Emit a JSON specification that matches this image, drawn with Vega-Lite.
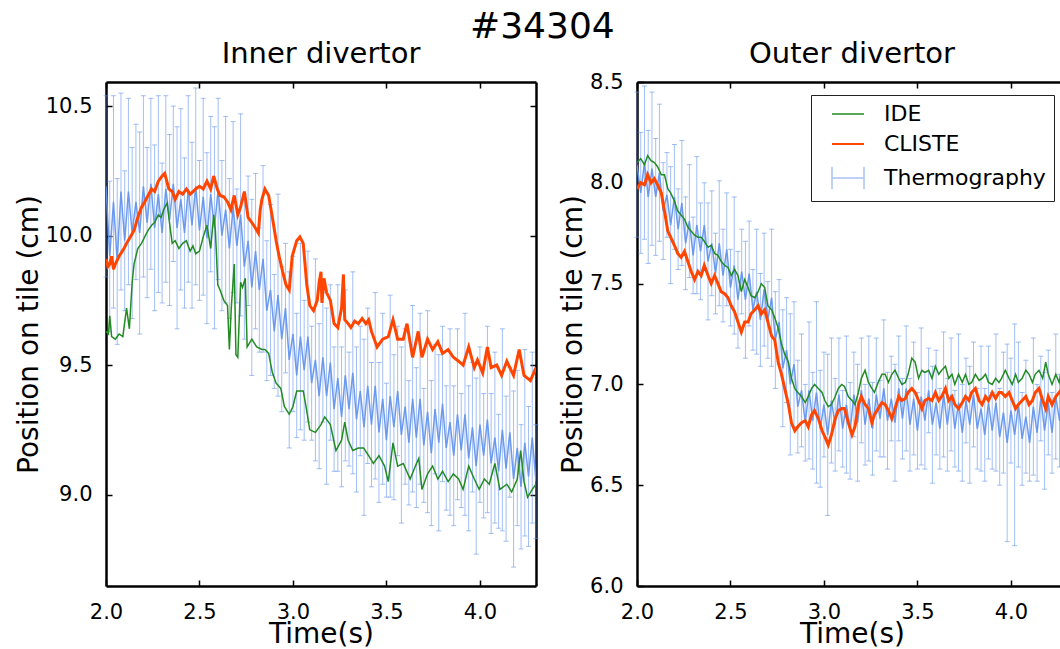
{
"$schema": "https://vega.github.io/schema/vega-lite/v6.json",
"padding": {"left": 15, "top": 9, "right": 0, "bottom": 0},
"background": "white",
"title": {"text": "#34304", "fontSize": 36, "anchor": "middle", "offset": -6},
"config": {
  "font": "DejaVu Sans",
  "view": {"stroke": null},
  "axis": {"domainColor": "black", "domainWidth": 2.5, "tickColor": "black", "tickWidth": 1.5, "tickSize": -6, "labelFontSize": 21, "labelColor": "black", "titleFontSize": 28, "titleFontWeight": "normal", "titleColor": "black", "grid": false, "labelFlush": false, "labelOverlap": false},
  "axisX": {"labelPadding": 21, "titlePadding": -2},
  "axisY": {"labelPadding": 20, "titlePadding": 2},
  "title": {"fontSize": 29, "fontWeight": "normal", "color": "black"},
  "legend": {"labelFontSize": 22, "labelColor": "black"}
},
"datasets": {
"inner_th": [
{"t":2.00,"y":10.19,"e":0.35},{"t":2.02,"y":9.92,"e":0.29},{"t":2.04,"y":10.13,"e":0.41},{"t":2.06,"y":9.90,"e":0.32},{"t":2.08,"y":10.17,"e":0.38},{"t":2.10,"y":9.98,"e":0.27},{"t":2.12,"y":10.17,"e":0.36},{"t":2.14,"y":10.01,"e":0.33},{"t":2.16,"y":10.13,"e":0.30},{"t":2.18,"y":10.01,"e":0.39},
{"t":2.20,"y":10.19,"e":0.35},{"t":2.22,"y":10.05,"e":0.29},{"t":2.24,"y":10.20,"e":0.33},{"t":2.26,"y":10.03,"e":0.32},{"t":2.28,"y":10.16,"e":0.38},{"t":2.30,"y":10.01,"e":0.27},{"t":2.32,"y":10.18,"e":0.36},{"t":2.34,"y":10.06,"e":0.33},{"t":2.36,"y":10.20,"e":0.30},{"t":2.38,"y":10.03,"e":0.39},
{"t":2.40,"y":10.14,"e":0.35},{"t":2.42,"y":10.01,"e":0.29},{"t":2.44,"y":10.18,"e":0.36},{"t":2.46,"y":10.04,"e":0.32},{"t":2.48,"y":10.19,"e":0.38},{"t":2.50,"y":10.02,"e":0.27},{"t":2.52,"y":10.15,"e":0.38},{"t":2.54,"y":9.99,"e":0.33},{"t":2.56,"y":10.16,"e":0.30},{"t":2.58,"y":10.03,"e":0.39},
{"t":2.60,"y":10.18,"e":0.35},{"t":2.62,"y":10.00,"e":0.29},{"t":2.64,"y":10.10,"e":0.36},{"t":2.66,"y":9.95,"e":0.27},{"t":2.68,"y":10.11,"e":0.33},{"t":2.70,"y":9.96,"e":0.22},{"t":2.72,"y":10.08,"e":0.39},{"t":2.74,"y":9.88,"e":0.28},{"t":2.76,"y":9.98,"e":0.25},{"t":2.78,"y":9.80,"e":0.34},
{"t":2.80,"y":9.94,"e":0.30},{"t":2.82,"y":9.79,"e":0.24},{"t":2.84,"y":9.91,"e":0.36},{"t":2.86,"y":9.71,"e":0.27},{"t":2.88,"y":9.79,"e":0.33},{"t":2.90,"y":9.63,"e":0.22},{"t":2.92,"y":9.77,"e":0.39},{"t":2.94,"y":9.60,"e":0.28},{"t":2.96,"y":9.72,"e":0.25},{"t":2.98,"y":9.52,"e":0.34},
{"t":3.00,"y":9.62,"e":0.30},{"t":3.02,"y":9.46,"e":0.24},{"t":3.04,"y":9.61,"e":0.36},{"t":3.06,"y":9.48,"e":0.27},{"t":3.08,"y":9.61,"e":0.33},{"t":3.10,"y":9.43,"e":0.22},{"t":3.12,"y":9.52,"e":0.39},{"t":3.14,"y":9.38,"e":0.28},{"t":3.16,"y":9.53,"e":0.25},{"t":3.18,"y":9.38,"e":0.34},
{"t":3.20,"y":9.51,"e":0.30},{"t":3.22,"y":9.33,"e":0.24},{"t":3.24,"y":9.45,"e":0.36},{"t":3.26,"y":9.30,"e":0.27},{"t":3.28,"y":9.46,"e":0.33},{"t":3.30,"y":9.33,"e":0.22},{"t":3.32,"y":9.47,"e":0.39},{"t":3.34,"y":9.29,"e":0.28},{"t":3.36,"y":9.40,"e":0.25},{"t":3.38,"y":9.26,"e":0.34},
{"t":3.40,"y":9.42,"e":0.30},{"t":3.42,"y":9.27,"e":0.24},{"t":3.44,"y":9.42,"e":0.36},{"t":3.46,"y":9.24,"e":0.27},{"t":3.48,"y":9.37,"e":0.33},{"t":3.50,"y":9.21,"e":0.22},{"t":3.52,"y":9.38,"e":0.39},{"t":3.54,"y":9.26,"e":0.28},{"t":3.56,"y":9.40,"e":0.25},{"t":3.58,"y":9.23,"e":0.34},
{"t":3.60,"y":9.34,"e":0.30},{"t":3.62,"y":9.20,"e":0.24},{"t":3.64,"y":9.37,"e":0.36},{"t":3.66,"y":9.22,"e":0.27},{"t":3.68,"y":9.37,"e":0.33},{"t":3.70,"y":9.19,"e":0.22},{"t":3.72,"y":9.32,"e":0.39},{"t":3.74,"y":9.16,"e":0.28},{"t":3.76,"y":9.33,"e":0.25},{"t":3.78,"y":9.20,"e":0.34},
{"t":3.80,"y":9.35,"e":0.30},{"t":3.82,"y":9.18,"e":0.24},{"t":3.84,"y":9.28,"e":0.36},{"t":3.86,"y":9.15,"e":0.27},{"t":3.88,"y":9.31,"e":0.33},{"t":3.90,"y":9.17,"e":0.22},{"t":3.92,"y":9.31,"e":0.39},{"t":3.94,"y":9.14,"e":0.28},{"t":3.96,"y":9.26,"e":0.25},{"t":3.98,"y":9.11,"e":0.34},
{"t":4.00,"y":9.27,"e":0.30},{"t":4.02,"y":9.15,"e":0.24},{"t":4.04,"y":9.29,"e":0.36},{"t":4.06,"y":9.12,"e":0.27},{"t":4.08,"y":9.22,"e":0.33},{"t":4.10,"y":9.09,"e":0.22},{"t":4.12,"y":9.25,"e":0.39},{"t":4.14,"y":9.10,"e":0.28},{"t":4.16,"y":9.24,"e":0.25},{"t":4.18,"y":9.06,"e":0.34},
{"t":4.20,"y":9.18,"e":0.30},{"t":4.22,"y":9.03,"e":0.24},{"t":4.24,"y":9.20,"e":0.36},{"t":4.26,"y":9.07,"e":0.27},{"t":4.28,"y":9.22,"e":0.33},{"t":4.30,"y":9.05,"e":0.22}
],
"inner_ide": [
{"t":2.000,"y":9.63},{"t":2.013,"y":9.62},{"t":2.02,"y":9.69},{"t":2.03,"y":9.61},{"t":2.05,"y":9.60},{"t":2.07,"y":9.62},{"t":2.09,"y":9.61},{"t":2.11,"y":9.72},{"t":2.125,"y":9.64},{"t":2.14,"y":9.82},
{"t":2.15,"y":9.89},{"t":2.17,"y":9.95},{"t":2.19,"y":9.97},{"t":2.207,"y":9.995},{"t":2.225,"y":10.02},{"t":2.244,"y":10.04},{"t":2.26,"y":10.05},{"t":2.28,"y":10.08},{"t":2.295,"y":10.07},{"t":2.308,"y":10.10},
{"t":2.327,"y":10.126},{"t":2.336,"y":10.07},{"t":2.345,"y":10.02},{"t":2.354,"y":9.97},{"t":2.37,"y":9.98},{"t":2.39,"y":9.95},{"t":2.41,"y":9.97},{"t":2.43,"y":9.98},{"t":2.45,"y":9.94},{"t":2.465,"y":9.96},
{"t":2.48,"y":9.93},{"t":2.50,"y":9.94},{"t":2.52,"y":9.995},{"t":2.54,"y":10.04},{"t":2.56,"y":9.95},{"t":2.576,"y":10.08},{"t":2.585,"y":10.02},{"t":2.598,"y":9.81},{"t":2.61,"y":9.79},{"t":2.63,"y":9.75},
{"t":2.65,"y":9.73},{"t":2.66,"y":9.56},{"t":2.67,"y":9.72},{"t":2.686,"y":9.89},{"t":2.695,"y":9.54},{"t":2.705,"y":9.53},{"t":2.72,"y":9.82},{"t":2.73,"y":9.80},{"t":2.745,"y":9.835},{"t":2.755,"y":9.57},
{"t":2.78,"y":9.60},{"t":2.806,"y":9.57},{"t":2.834,"y":9.56},{"t":2.85,"y":9.56},{"t":2.87,"y":9.545},{"t":2.89,"y":9.47},{"t":2.91,"y":9.43},{"t":2.935,"y":9.41},{"t":2.954,"y":9.34},{"t":2.98,"y":9.31},
{"t":3.0,"y":9.34},{"t":3.02,"y":9.40},{"t":3.055,"y":9.40},{"t":3.07,"y":9.34},{"t":3.09,"y":9.25},{"t":3.12,"y":9.24},{"t":3.15,"y":9.27},{"t":3.17,"y":9.30},{"t":3.20,"y":9.27},{"t":3.23,"y":9.17},
{"t":3.26,"y":9.21},{"t":3.277,"y":9.28},{"t":3.295,"y":9.21},{"t":3.32,"y":9.17},{"t":3.35,"y":9.18},{"t":3.378,"y":9.18},{"t":3.405,"y":9.15},{"t":3.43,"y":9.12},{"t":3.46,"y":9.15},{"t":3.49,"y":9.11},
{"t":3.51,"y":9.05},{"t":3.535,"y":9.20},{"t":3.56,"y":9.11},{"t":3.59,"y":9.12},{"t":3.627,"y":9.06},{"t":3.655,"y":9.11},{"t":3.673,"y":9.14},{"t":3.69,"y":9.02},{"t":3.72,"y":9.08},{"t":3.747,"y":9.11},
{"t":3.775,"y":9.06},{"t":3.80,"y":9.09},{"t":3.83,"y":9.05},{"t":3.858,"y":9.08},{"t":3.886,"y":9.06},{"t":3.91,"y":9.02},{"t":3.94,"y":9.11},{"t":3.97,"y":9.06},{"t":3.996,"y":9.02},{"t":4.024,"y":9.06},
{"t":4.05,"y":9.04},{"t":4.08,"y":9.12},{"t":4.107,"y":9.02},{"t":4.144,"y":9.04},{"t":4.17,"y":9.01},{"t":4.20,"y":9.06},{"t":4.218,"y":9.17},{"t":4.236,"y":9.05},{"t":4.255,"y":8.99},{"t":4.28,"y":9.02},{"t":4.30,"y":9.04}
],
"inner_cl": [
{"t":2.00,"y":9.91},{"t":2.01,"y":9.88},{"t":2.02,"y":9.89},{"t":2.03,"y":9.92},{"t":2.04,"y":9.87},{"t":2.05,"y":9.89},{"t":2.07,"y":9.92},{"t":2.096,"y":9.95},{"t":2.11,"y":9.97},{"t":2.13,"y":9.995},
{"t":2.15,"y":10.02},{"t":2.17,"y":10.07},{"t":2.19,"y":10.11},{"t":2.207,"y":10.13},{"t":2.225,"y":10.155},{"t":2.244,"y":10.18},{"t":2.26,"y":10.17},{"t":2.28,"y":10.21},{"t":2.30,"y":10.23},{"t":2.314,"y":10.24},
{"t":2.336,"y":10.18},{"t":2.354,"y":10.17},{"t":2.37,"y":10.14},{"t":2.39,"y":10.17},{"t":2.41,"y":10.16},{"t":2.43,"y":10.18},{"t":2.45,"y":10.16},{"t":2.465,"y":10.17},{"t":2.48,"y":10.18},{"t":2.50,"y":10.19},
{"t":2.52,"y":10.18},{"t":2.54,"y":10.21},{"t":2.56,"y":10.18},{"t":2.576,"y":10.23},{"t":2.595,"y":10.18},{"t":2.61,"y":10.155},{"t":2.63,"y":10.15},{"t":2.65,"y":10.13},{"t":2.668,"y":10.10},{"t":2.686,"y":10.155},
{"t":2.705,"y":10.08},{"t":2.72,"y":10.11},{"t":2.74,"y":10.17},{"t":2.76,"y":10.07},{"t":2.79,"y":10.04},{"t":2.815,"y":10.01},{"t":2.825,"y":10.10},{"t":2.834,"y":10.14},{"t":2.85,"y":10.18},{"t":2.87,"y":10.155},
{"t":2.89,"y":10.07},{"t":2.91,"y":9.98},{"t":2.926,"y":9.92},{"t":2.945,"y":9.86},{"t":2.963,"y":9.81},{"t":2.98,"y":9.79},{"t":2.996,"y":9.92},{"t":3.02,"y":9.98},{"t":3.037,"y":9.995},{"t":3.055,"y":9.97},
{"t":3.074,"y":9.81},{"t":3.09,"y":9.73},{"t":3.11,"y":9.71},{"t":3.13,"y":9.75},{"t":3.14,"y":9.82},{"t":3.15,"y":9.86},{"t":3.155,"y":9.74},{"t":3.166,"y":9.835},{"t":3.18,"y":9.78},{"t":3.20,"y":9.75},
{"t":3.22,"y":9.66},{"t":3.24,"y":9.645},{"t":3.26,"y":9.72},{"t":3.27,"y":9.85},{"t":3.277,"y":9.675},{"t":3.295,"y":9.66},{"t":3.31,"y":9.645},{"t":3.33,"y":9.67},{"t":3.35,"y":9.66},{"t":3.37,"y":9.68},
{"t":3.39,"y":9.66},{"t":3.405,"y":9.675},{"t":3.42,"y":9.63},{"t":3.45,"y":9.57},{"t":3.48,"y":9.60},{"t":3.51,"y":9.61},{"t":3.535,"y":9.675},{"t":3.56,"y":9.60},{"t":3.59,"y":9.60},{"t":3.61,"y":9.66},
{"t":3.64,"y":9.53},{"t":3.67,"y":9.63},{"t":3.69,"y":9.53},{"t":3.72,"y":9.60},{"t":3.747,"y":9.56},{"t":3.775,"y":9.59},{"t":3.80,"y":9.545},{"t":3.83,"y":9.56},{"t":3.858,"y":9.53},{"t":3.886,"y":9.515},
{"t":3.91,"y":9.50},{"t":3.94,"y":9.57},{"t":3.97,"y":9.49},{"t":3.987,"y":9.52},{"t":4.015,"y":9.47},{"t":4.04,"y":9.57},{"t":4.06,"y":9.49},{"t":4.09,"y":9.50},{"t":4.116,"y":9.46},{"t":4.144,"y":9.515},
{"t":4.18,"y":9.46},{"t":4.21,"y":9.56},{"t":4.236,"y":9.46},{"t":4.27,"y":9.44},{"t":4.30,"y":9.49}
],
"outer_th": [
{"t":2.00,"y":8.09,"e":0.36},{"t":2.02,"y":7.95,"e":0.30},{"t":2.04,"y":8.10,"e":0.38},{"t":2.06,"y":7.93,"e":0.33},{"t":2.08,"y":8.07,"e":0.38},{"t":2.10,"y":7.93,"e":0.29},{"t":2.12,"y":8.05,"e":0.34},{"t":2.14,"y":7.86,"e":0.24},{"t":2.16,"y":7.94,"e":0.21},{"t":2.18,"y":7.79,"e":0.29},
{"t":2.20,"y":7.93,"e":0.26},{"t":2.22,"y":7.77,"e":0.20},{"t":2.24,"y":7.90,"e":0.31},{"t":2.26,"y":7.70,"e":0.23},{"t":2.28,"y":7.81,"e":0.28},{"t":2.30,"y":7.64,"e":0.19},{"t":2.32,"y":7.79,"e":0.34},{"t":2.34,"y":7.66,"e":0.24},{"t":2.36,"y":7.79,"e":0.21},{"t":2.38,"y":7.61,"e":0.29},
{"t":2.40,"y":7.70,"e":0.26},{"t":2.42,"y":7.55,"e":0.20},{"t":2.44,"y":7.70,"e":0.31},{"t":2.46,"y":7.54,"e":0.23},{"t":2.48,"y":7.67,"e":0.28},{"t":2.50,"y":7.48,"e":0.19},{"t":2.52,"y":7.59,"e":0.34},{"t":2.54,"y":7.42,"e":0.24},{"t":2.56,"y":7.56,"e":0.21},{"t":2.58,"y":7.42,"e":0.29},
{"t":2.60,"y":7.55,"e":0.26},{"t":2.62,"y":7.37,"e":0.20},{"t":2.64,"y":7.46,"e":0.31},{"t":2.66,"y":7.32,"e":0.23},{"t":2.68,"y":7.47,"e":0.28},{"t":2.70,"y":7.32,"e":0.19},{"t":2.72,"y":7.43,"e":0.34},{"t":2.74,"y":7.22,"e":0.24},{"t":2.76,"y":7.31,"e":0.21},{"t":2.78,"y":7.08,"e":0.29},
{"t":2.80,"y":7.17,"e":0.26},{"t":2.82,"y":7.00,"e":0.35},{"t":2.84,"y":7.10,"e":0.31},{"t":2.86,"y":6.89,"e":0.23},{"t":2.88,"y":6.97,"e":0.28},{"t":2.90,"y":6.81,"e":0.19},{"t":2.92,"y":6.97,"e":0.34},{"t":2.94,"y":6.82,"e":0.24},{"t":2.96,"y":6.96,"e":0.45},{"t":2.98,"y":6.78,"e":0.29},
{"t":3.00,"y":6.90,"e":0.26},{"t":3.02,"y":6.75,"e":0.40},{"t":3.04,"y":6.92,"e":0.31},{"t":3.06,"y":6.80,"e":0.23},{"t":3.08,"y":6.95,"e":0.28},{"t":3.10,"y":6.78,"e":0.19},{"t":3.12,"y":6.90,"e":0.34},{"t":3.14,"y":6.77,"e":0.24},{"t":3.16,"y":6.95,"e":0.21},{"t":3.18,"y":6.81,"e":0.29},
{"t":3.20,"y":6.97,"e":0.26},{"t":3.22,"y":6.80,"e":0.20},{"t":3.24,"y":6.93,"e":0.31},{"t":3.26,"y":6.78,"e":0.23},{"t":3.28,"y":6.95,"e":0.28},{"t":3.30,"y":6.83,"e":0.19},{"t":3.32,"y":6.98,"e":0.34},{"t":3.34,"y":6.82,"e":0.24},{"t":3.36,"y":6.93,"e":0.21},{"t":3.38,"y":6.81,"e":0.29},
{"t":3.40,"y":6.98,"e":0.26},{"t":3.42,"y":6.83,"e":0.20},{"t":3.44,"y":6.98,"e":0.31},{"t":3.46,"y":6.80,"e":0.23},{"t":3.48,"y":6.93,"e":0.28},{"t":3.50,"y":6.77,"e":0.19},{"t":3.52,"y":6.94,"e":0.34},{"t":3.54,"y":6.82,"e":0.24},{"t":3.56,"y":6.97,"e":0.21},{"t":3.58,"y":6.80,"e":0.29},
{"t":3.60,"y":6.91,"e":0.26},{"t":3.62,"y":6.78,"e":0.20},{"t":3.64,"y":6.95,"e":0.31},{"t":3.66,"y":6.80,"e":0.23},{"t":3.68,"y":6.95,"e":0.28},{"t":3.70,"y":6.78,"e":0.19},{"t":3.72,"y":6.91,"e":0.34},{"t":3.74,"y":6.76,"e":0.24},{"t":3.76,"y":6.92,"e":0.21},{"t":3.78,"y":6.80,"e":0.29},
{"t":3.80,"y":6.95,"e":0.26},{"t":3.82,"y":6.78,"e":0.20},{"t":3.84,"y":6.88,"e":0.31},{"t":3.86,"y":6.75,"e":0.23},{"t":3.88,"y":6.91,"e":0.28},{"t":3.90,"y":6.77,"e":0.19},{"t":3.92,"y":6.91,"e":0.34},{"t":3.94,"y":6.74,"e":0.24},{"t":3.96,"y":6.86,"e":0.30},{"t":3.98,"y":6.71,"e":0.49},
{"t":4.00,"y":6.87,"e":0.26},{"t":4.02,"y":6.75,"e":0.55},{"t":4.04,"y":6.90,"e":0.31},{"t":4.06,"y":6.73,"e":0.23},{"t":4.08,"y":6.84,"e":0.28},{"t":4.10,"y":6.71,"e":0.19},{"t":4.12,"y":6.89,"e":0.34},{"t":4.14,"y":6.76,"e":0.24},{"t":4.16,"y":6.93,"e":0.21},{"t":4.18,"y":6.77,"e":0.29},
{"t":4.20,"y":6.91,"e":0.26},{"t":4.22,"y":6.76,"e":0.20},{"t":4.24,"y":6.94,"e":0.31},{"t":4.26,"y":6.82,"e":0.23},{"t":4.28,"y":6.98,"e":0.28},{"t":4.30,"y":6.81,"e":0.19}
],
"outer_ide": [
{"t":2.0,"y":8.10},{"t":2.02,"y":8.12},{"t":2.04,"y":8.09},{"t":2.057,"y":8.135},{"t":2.075,"y":8.11},{"t":2.093,"y":8.10},{"t":2.11,"y":8.08},{"t":2.13,"y":8.04},{"t":2.147,"y":8.04},{"t":2.165,"y":7.97},
{"t":2.18,"y":7.95},{"t":2.20,"y":7.91},{"t":2.218,"y":7.86},{"t":2.236,"y":7.84},{"t":2.254,"y":7.82},{"t":2.272,"y":7.78},{"t":2.29,"y":7.76},{"t":2.308,"y":7.74},{"t":2.326,"y":7.73},{"t":2.343,"y":7.73},
{"t":2.36,"y":7.71},{"t":2.38,"y":7.68},{"t":2.397,"y":7.69},{"t":2.415,"y":7.65},{"t":2.433,"y":7.64},{"t":2.45,"y":7.61},{"t":2.469,"y":7.59},{"t":2.487,"y":7.58},{"t":2.504,"y":7.54},{"t":2.522,"y":7.57},
{"t":2.54,"y":7.54},{"t":2.558,"y":7.46},{"t":2.576,"y":7.52},{"t":2.594,"y":7.48},{"t":2.61,"y":7.44},{"t":2.63,"y":7.43},{"t":2.648,"y":7.46},{"t":2.665,"y":7.50},{"t":2.683,"y":7.48},{"t":2.70,"y":7.39},
{"t":2.72,"y":7.37},{"t":2.737,"y":7.33},{"t":2.755,"y":7.28},{"t":2.773,"y":7.20},{"t":2.79,"y":7.15},{"t":2.81,"y":7.11},{"t":2.826,"y":7.03},{"t":2.844,"y":6.98},{"t":2.86,"y":6.96},{"t":2.88,"y":6.94},
{"t":2.90,"y":6.91},{"t":2.916,"y":6.94},{"t":2.934,"y":6.98},{"t":2.95,"y":7.00},{"t":2.97,"y":6.98},{"t":2.99,"y":6.96},{"t":3.005,"y":6.92},{"t":3.023,"y":6.89},{"t":3.04,"y":6.90},{"t":3.06,"y":6.94},
{"t":3.077,"y":6.98},{"t":3.095,"y":7.00},{"t":3.11,"y":6.99},{"t":3.13,"y":6.94},{"t":3.15,"y":6.92},{"t":3.166,"y":6.90},{"t":3.184,"y":6.96},{"t":3.20,"y":7.03},{"t":3.22,"y":7.07},{"t":3.238,"y":7.01},
{"t":3.256,"y":6.98},{"t":3.27,"y":6.96},{"t":3.29,"y":7.01},{"t":3.31,"y":7.05},{"t":3.327,"y":7.05},{"t":3.345,"y":7.01},{"t":3.363,"y":7.05},{"t":3.38,"y":7.07},{"t":3.40,"y":7.03},{"t":3.417,"y":7.00},
{"t":3.435,"y":7.01},{"t":3.45,"y":7.05},{"t":3.47,"y":7.13},{"t":3.488,"y":7.11},{"t":3.506,"y":7.03},{"t":3.524,"y":7.07},{"t":3.54,"y":7.06},{"t":3.56,"y":7.07},{"t":3.578,"y":7.03},{"t":3.596,"y":7.09},
{"t":3.614,"y":7.05},{"t":3.63,"y":7.07},{"t":3.65,"y":7.09},{"t":3.667,"y":7.03},{"t":3.685,"y":7.05},{"t":3.70,"y":7.00},{"t":3.72,"y":7.05},{"t":3.74,"y":7.01},{"t":3.757,"y":7.05},{"t":3.775,"y":7.00},
{"t":3.79,"y":7.01},{"t":3.81,"y":7.05},{"t":3.83,"y":7.02},{"t":3.846,"y":7.03},{"t":3.864,"y":7.05},{"t":3.88,"y":7.01},{"t":3.90,"y":7.00},{"t":3.918,"y":7.03},{"t":3.936,"y":7.01},{"t":3.95,"y":7.03},
{"t":3.97,"y":7.07},{"t":3.99,"y":7.03},{"t":4.007,"y":7.00},{"t":4.025,"y":7.05},{"t":4.04,"y":7.01},{"t":4.06,"y":7.03},{"t":4.08,"y":7.07},{"t":4.097,"y":7.05},{"t":4.115,"y":7.01},{"t":4.13,"y":7.05},
{"t":4.15,"y":7.07},{"t":4.17,"y":7.03},{"t":4.186,"y":7.11},{"t":4.20,"y":7.05},{"t":4.22,"y":7.00},{"t":4.24,"y":7.05},{"t":4.258,"y":7.01},{"t":4.276,"y":7.09},{"t":4.30,"y":7.05}
],
"outer_cl": [
{"t":2.0,"y":7.97},{"t":2.02,"y":8.00},{"t":2.04,"y":7.99},{"t":2.057,"y":8.04},{"t":2.075,"y":8.00},{"t":2.093,"y":8.02},{"t":2.11,"y":7.99},{"t":2.13,"y":7.95},{"t":2.147,"y":7.86},{"t":2.165,"y":7.76},
{"t":2.18,"y":7.73},{"t":2.20,"y":7.69},{"t":2.218,"y":7.65},{"t":2.236,"y":7.63},{"t":2.254,"y":7.66},{"t":2.272,"y":7.61},{"t":2.29,"y":7.56},{"t":2.308,"y":7.52},{"t":2.326,"y":7.56},{"t":2.343,"y":7.54},
{"t":2.36,"y":7.59},{"t":2.38,"y":7.54},{"t":2.397,"y":7.50},{"t":2.415,"y":7.54},{"t":2.433,"y":7.50},{"t":2.45,"y":7.46},{"t":2.469,"y":7.45},{"t":2.487,"y":7.43},{"t":2.504,"y":7.39},{"t":2.522,"y":7.36},
{"t":2.54,"y":7.31},{"t":2.558,"y":7.26},{"t":2.576,"y":7.31},{"t":2.594,"y":7.31},{"t":2.61,"y":7.35},{"t":2.63,"y":7.37},{"t":2.648,"y":7.39},{"t":2.665,"y":7.35},{"t":2.683,"y":7.37},{"t":2.70,"y":7.31},
{"t":2.72,"y":7.24},{"t":2.737,"y":7.22},{"t":2.755,"y":7.11},{"t":2.773,"y":7.05},{"t":2.79,"y":6.98},{"t":2.81,"y":6.90},{"t":2.826,"y":6.81},{"t":2.844,"y":6.77},{"t":2.86,"y":6.79},{"t":2.88,"y":6.81},
{"t":2.90,"y":6.82},{"t":2.916,"y":6.79},{"t":2.934,"y":6.85},{"t":2.95,"y":6.87},{"t":2.97,"y":6.83},{"t":2.99,"y":6.77},{"t":3.005,"y":6.74},{"t":3.023,"y":6.70},{"t":3.04,"y":6.75},{"t":3.06,"y":6.83},
{"t":3.077,"y":6.87},{"t":3.095,"y":6.88},{"t":3.11,"y":6.88},{"t":3.13,"y":6.81},{"t":3.15,"y":6.75},{"t":3.166,"y":6.79},{"t":3.184,"y":6.90},{"t":3.20,"y":6.94},{"t":3.22,"y":6.90},{"t":3.238,"y":6.88},
{"t":3.256,"y":6.81},{"t":3.27,"y":6.85},{"t":3.29,"y":6.88},{"t":3.31,"y":6.91},{"t":3.327,"y":6.90},{"t":3.345,"y":6.87},{"t":3.363,"y":6.83},{"t":3.38,"y":6.88},{"t":3.40,"y":6.94},{"t":3.417,"y":6.92},
{"t":3.435,"y":6.93},{"t":3.45,"y":6.96},{"t":3.47,"y":6.98},{"t":3.488,"y":6.96},{"t":3.506,"y":6.92},{"t":3.524,"y":6.88},{"t":3.54,"y":6.92},{"t":3.56,"y":6.93},{"t":3.578,"y":6.92},{"t":3.596,"y":6.96},
{"t":3.614,"y":6.92},{"t":3.63,"y":6.94},{"t":3.65,"y":6.98},{"t":3.667,"y":6.92},{"t":3.685,"y":6.94},{"t":3.70,"y":6.90},{"t":3.72,"y":6.88},{"t":3.74,"y":6.91},{"t":3.757,"y":6.94},{"t":3.775,"y":6.92},
{"t":3.79,"y":6.96},{"t":3.81,"y":6.98},{"t":3.83,"y":6.92},{"t":3.846,"y":6.90},{"t":3.864,"y":6.94},{"t":3.88,"y":6.92},{"t":3.90,"y":6.96},{"t":3.918,"y":6.93},{"t":3.936,"y":6.96},{"t":3.95,"y":6.96},
{"t":3.97,"y":6.94},{"t":3.99,"y":6.96},{"t":4.007,"y":6.92},{"t":4.025,"y":6.88},{"t":4.04,"y":6.90},{"t":4.06,"y":6.92},{"t":4.08,"y":6.94},{"t":4.097,"y":6.90},{"t":4.115,"y":6.92},{"t":4.13,"y":6.96},
{"t":4.15,"y":6.98},{"t":4.17,"y":6.92},{"t":4.186,"y":6.88},{"t":4.20,"y":6.94},{"t":4.22,"y":6.90},{"t":4.24,"y":6.94},{"t":4.258,"y":6.96},{"t":4.276,"y":6.98},{"t":4.30,"y":6.94}
]
},
"spacing": 20,
"resolve": {"scale": {"color": "independent"}, "legend": {"color": "independent"}},
"hconcat": [
{
  "width": 430, "height": 504,
  "title": {"text": "Inner divertor", "offset": 12},
  "layer": [
    {"data": {"name": "inner_th"},
     "mark": {"type": "errorbar", "color": "#6495ED", "thickness": 1, "rule": {"opacity": 0.6}, "ticks": {"size": 5, "opacity": 0.6}},
     "encoding": {
       "x": {"field": "t", "type": "quantitative", "scale": {"domain": [2, 4.3], "nice": false, "zero": false}, "axis": {"orient": "bottom", "values": [2, 2.5, 3, 3.5, 4], "format": ".1f", "title": "Time(s)"}},
       "y": {"field": "y", "type": "quantitative", "scale": {"domain": [8.647, 10.593], "nice": false, "zero": false}, "axis": {"orient": "left", "values": [9, 9.5, 10, 10.5], "format": ".1f", "title": "Position on tile (cm)"}},
       "yError": {"field": "e"}
     }},
    {"data": {"name": "inner_th"},
     "mark": {"type": "line", "color": "#6495ED", "strokeWidth": 1.5, "opacity": 0.95, "clip": true},
     "encoding": {"x": {"field": "t", "type": "quantitative", "axis": null}, "y": {"field": "y", "type": "quantitative", "axis": null}}},
    {"data": {"name": "inner_ide"},
     "mark": {"type": "line", "color": "#228B22", "strokeWidth": 1.5, "clip": true},
     "encoding": {"x": {"field": "t", "type": "quantitative", "axis": null}, "y": {"field": "y", "type": "quantitative", "axis": null}}},
    {"data": {"name": "inner_cl"},
     "mark": {"type": "line", "color": "#FF4500", "strokeWidth": 3, "clip": true},
     "encoding": {
       "x": {"field": "t", "type": "quantitative", "axis": {"orient": "top", "values": [2, 2.5, 3, 3.5, 4], "labels": false, "title": null}},
       "y": {"field": "y", "type": "quantitative", "axis": {"orient": "right", "values": [9, 9.5, 10, 10.5], "labels": false, "title": null}}
     }}
  ],
  "resolve": {"axis": {"x": "independent", "y": "independent"}}
},
{
  "width": 430, "height": 504,
  "title": {"text": "Outer divertor", "offset": 2},
  "layer": [
    {"data": {"name": "outer_th"},
     "mark": {"type": "errorbar", "color": "#6495ED", "thickness": 1, "rule": {"opacity": 0.6}, "ticks": {"size": 5, "opacity": 0.6}},
     "encoding": {
       "x": {"field": "t", "type": "quantitative", "scale": {"domain": [2, 4.3], "nice": false, "zero": false}, "axis": {"orient": "bottom", "values": [2, 2.5, 3, 3.5, 4], "format": ".1f", "title": "Time(s)"}},
       "y": {"field": "y", "type": "quantitative", "scale": {"domain": [6, 8.5], "nice": false, "zero": false}, "axis": {"orient": "left", "values": [6, 6.5, 7, 7.5, 8, 8.5], "format": ".1f", "title": "Position on tile (cm)"}},
       "yError": {"field": "e"}
     }},
    {"data": {"name": "outer_th"},
     "mark": {"type": "line", "color": "#6495ED", "strokeWidth": 1.5, "opacity": 0.95, "clip": true},
     "encoding": {"x": {"field": "t", "type": "quantitative", "axis": null}, "y": {"field": "y", "type": "quantitative", "axis": null}}},
    {"data": {"name": "outer_ide"},
     "mark": {"type": "line", "strokeWidth": 1.5, "clip": true},
     "encoding": {
       "x": {"field": "t", "type": "quantitative", "axis": null},
       "y": {"field": "y", "type": "quantitative", "axis": null},
       "color": {"datum": "IDE", "type": "nominal",
         "scale": {"domain": ["IDE", "CLISTE", "Thermography"], "range": ["#228B22", "#FF4500", "#6495ED"]},
         "legend": {"title": null, "orient": "top-right", "offset": 13, "padding": 8, "labelOffset": 25, "rowPadding": 8, "symbolOffset": 18, "labelLimit": 400,
           "symbolSize": 1024, "symbolStrokeWidth": 1.5, "symbolType": "stroke",
           "strokeColor": "#222222", "fillColor": "white", "cornerRadius": 0, "labelFontSize": 22, "labelColor": "black",
           "encode": {"symbols": {"update": {
             "shape": {"signal": "datum.value === 'Thermography' ? 'M-1,-0.7L-1,0.7M1,-0.7L1,0.7M-1,0L1,0' : 'M-1,0L1,0'"},
             "opacity": {"signal": "datum.value === 'Thermography' ? 0.55 : 1"},
             "strokeWidth": {"signal": "datum.value === 'CLISTE' ? 2 : 1.5"}
           }}}}}
     }},
    {"data": {"name": "outer_cl"},
     "mark": {"type": "line", "strokeWidth": 3, "clip": true},
     "encoding": {
       "x": {"field": "t", "type": "quantitative", "axis": {"orient": "top", "values": [2, 2.5, 3, 3.5, 4], "labels": false, "title": null}},
       "y": {"field": "y", "type": "quantitative", "axis": {"orient": "right", "values": [6, 6.5, 7, 7.5, 8, 8.5], "labels": false, "title": null}},
       "color": {"datum": "CLISTE", "type": "nominal"}
     }}
  ],
  "resolve": {"axis": {"x": "independent", "y": "independent"}}
}
]
}
